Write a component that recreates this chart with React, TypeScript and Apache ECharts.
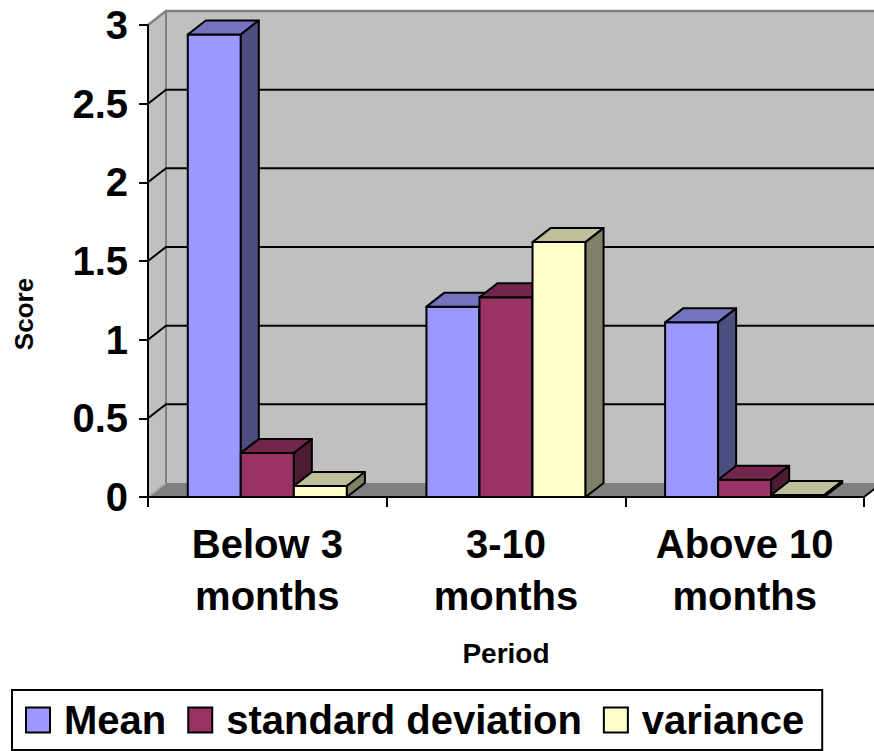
import React, { useEffect, useRef } from "react";
import * as echarts from "echarts";

const categories = ["Below 3\nmonths", "3-10\nmonths", "Above 10\nmonths"];
const seriesNames = ["Mean", "standard deviation", "variance"];
const meanValues = [2.94, 1.21, 1.11];
const sdValues = [0.28, 1.27, 0.11];
const varianceValues = [0.07, 1.62, 0.013];
const yTicks = [0, 0.5, 1, 1.5, 2, 2.5, 3];

const FONT = "'Liberation Sans', Arial, sans-serif";
const DX = 18;
const DY = -14;

const frontColors = ["#9999FF", "#993366", "#FFFFCC"];
const topColors = ["#7373BF", "#73264D", "#BFBF99"];
const sideColors = ["#4D4D80", "#4D1A33", "#808066"];

function gridBox(api: any) {
  const band = api.size([1, 0])[0];
  const first = api.coord([0, yTicks[yTicks.length - 1]]);
  const last = api.coord([categories.length - 1, 0]);
  return {
    band,
    xl: first[0] - band / 2,
    xr: last[0] + band / 2,
    yt: first[1],
    yb: last[1],
  };
}

function makeBarSeries(k: number, values: number[]) {
  return {
    name: seriesNames[k],
    type: "custom",
    coordinateSystem: "cartesian2d",
    z: 3,
    itemStyle: { color: frontColors[k] },
    encode: { x: 0, y: 1 },
    data: values.map((v, i) => [i, v]),
    renderItem: (params: any, api: any) => {
      const idx = api.value(0);
      const v = api.value(1);
      const base = api.coord([idx, 0]);
      const top = api.coord([idx, v]);
      const band = api.size([1, 0])[0];
      const bw = band / 4.5;
      const x0 = base[0] - band / 2 + 0.75 * bw + k * bw;
      const x1 = x0 + bw;
      const yT = top[1];
      const yB = base[1];
      const stroke = { stroke: "#000", lineWidth: 2, lineJoin: "round" };
      return {
        type: "group",
        children: [
          {
            type: "polygon",
            shape: { points: [[x0, yT], [x1, yT], [x1, yB], [x0, yB]] },
            style: { fill: frontColors[k], ...stroke },
          },
          {
            type: "polygon",
            shape: { points: [[x0, yT], [x0 + DX, yT + DY], [x1 + DX, yT + DY], [x1, yT]] },
            style: { fill: topColors[k], ...stroke },
          },
          {
            type: "polygon",
            shape: { points: [[x1, yT], [x1 + DX, yT + DY], [x1 + DX, yB + DY], [x1, yB]] },
            style: { fill: sideColors[k], ...stroke },
          },
        ],
      };
    },
  };
}

export default function App() {
  const ref = useRef<HTMLDivElement>(null);

  useEffect(() => {
    if (!ref.current) return;
    const chart = echarts.init(ref.current, null, { renderer: "svg" });

    const wallSeries = {
      type: "custom",
      coordinateSystem: "cartesian2d",
      z: 1,
      silent: true,
      encode: { x: 0, y: 1 },
      data: [[0, 0]],
      renderItem: (params: any, api: any) => {
        const { xl, xr, yt, yb } = gridBox(api);
        return {
          type: "group",
          children: [
            {
              type: "polygon",
              shape: { points: [[xl + DX, yt + DY], [xr + DX, yt + DY], [xr + DX, yb + DY], [xl + DX, yb + DY]] },
              style: { fill: "#C0C0C0" },
            },
            {
              type: "polygon",
              shape: { points: [[xl, yt], [xl + DX, yt + DY], [xl + DX, yb + DY], [xl, yb]] },
              style: { fill: "#C0C0C0" },
            },
            {
              type: "polygon",
              shape: { points: [[xl, yb], [xl + DX, yb + DY], [xr + DX, yb + DY], [xr, yb]] },
              style: { fill: "#808080" },
            },
            {
              type: "polyline",
              shape: { points: [[xl, yt], [xl + DX, yt + DY], [xr + DX + 20, yt + DY]] },
              style: { stroke: "#808080", lineWidth: 2.5, fill: null },
            },
            {
              type: "line",
              shape: { x1: xl + DX, y1: yt + DY, x2: xl + DX, y2: yb + DY },
              style: { stroke: "#808080", lineWidth: 2 },
            },
            {
              type: "line",
              shape: { x1: xl, y1: yb, x2: xl + DX, y2: yb + DY },
              style: { stroke: "#A8A8A8", lineWidth: 2 },
            },
            {
              type: "line",
              shape: { x1: xr, y1: yb, x2: xr + DX, y2: yb + DY },
              style: { stroke: "#000", lineWidth: 2 },
            },
          ],
        };
      },
    };

    const innerTicks = yTicks.slice(1, yTicks.length - 1);
    const gridSeries = {
      type: "custom",
      coordinateSystem: "cartesian2d",
      z: 2,
      silent: true,
      encode: { x: 0, y: 1 },
      data: innerTicks.map((t) => [0, t]),
      renderItem: (params: any, api: any) => {
        const { xl, xr } = gridBox(api);
        const y = api.coord([0, api.value(1)])[1];
        return {
          type: "polyline",
          shape: { points: [[xl, y], [xl + DX, y + DY], [xr + DX + 20, y + DY]] },
          style: { stroke: "#000", lineWidth: 2, fill: null },
        };
      },
    };

    chart.setOption({
      animation: false,
      color: frontColors,
      textStyle: { fontFamily: FONT },
      grid: { left: 148, right: 10, top: 25, bottom: 254, containLabel: false },
      xAxis: {
        type: "category",
        data: categories,
        z: 10,
        axisLine: { show: true, lineStyle: { color: "#000", width: 2 } },
        axisTick: { show: true, length: 10, lineStyle: { color: "#000", width: 2 } },
        axisLabel: {
          interval: 0,
          margin: 21,
          color: "#000",
          fontSize: 40,
          fontWeight: "bold",
          fontFamily: FONT,
          lineHeight: 52,
        },
        splitLine: { show: false },
        name: "Period",
        nameLocation: "middle",
        nameGap: 142,
        nameTextStyle: { color: "#000", fontSize: 28, fontWeight: "bold", fontFamily: FONT, verticalAlign: "top" },
      },
      yAxis: {
        type: "value",
        min: 0,
        max: 3,
        interval: 0.5,
        z: 10,
        axisLine: { show: true, lineStyle: { color: "#000", width: 2 } },
        axisTick: { show: true, length: 9, lineStyle: { color: "#000", width: 2 } },
        axisLabel: {
          margin: 20,
          color: "#000",
          fontSize: 40,
          fontWeight: "bold",
          fontFamily: FONT,
        },
        splitLine: { show: false },
      },
      legend: {
        data: seriesNames,
        left: 12,
        top: 690,
        orient: "horizontal",
        icon: "rect",
        itemWidth: 24,
        itemHeight: 25,
        itemGap: 21,
        padding: [10, 18, 10, 13],
        borderColor: "#000",
        borderWidth: 2,
        backgroundColor: "#fff",
        itemStyle: { borderColor: "#000", borderWidth: 2 },
        textStyle: {
          color: "#000",
          fontSize: 40,
          fontWeight: "bold",
          fontFamily: FONT,
          padding: [0, 0, 0, 9],
        },
        selectedMode: false,
      },
      graphic: [
        {
          type: "text",
          x: 24,
          y: 314,
          rotation: Math.PI / 2,
          style: {
            text: "Score",
            font: `bold 26px ${FONT}`,
            fill: "#000",
            align: "center",
            verticalAlign: "middle",
          },
        },
      ],
      series: [
        wallSeries,
        gridSeries,
        makeBarSeries(0, meanValues),
        makeBarSeries(1, sdValues),
        makeBarSeries(2, varianceValues),
      ],
    });

    return () => chart.dispose();
  }, []);

  return (
    <div
      ref={ref}
      style={{ position: "fixed", left: 0, top: 0, width: 874, height: 751, background: "#fff" }}
    />
  );
}
